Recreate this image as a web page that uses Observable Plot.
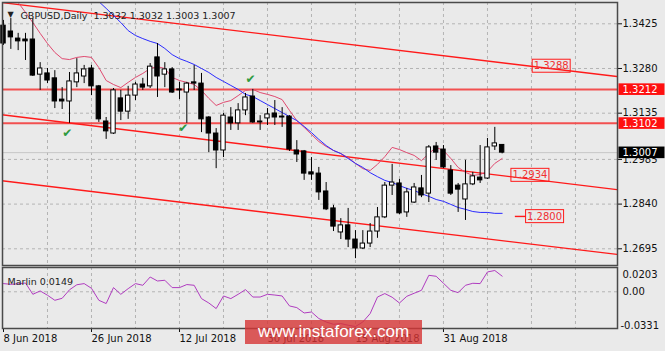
<!DOCTYPE html>
<html><head><meta charset="utf-8">
<script src="https://cdn.jsdelivr.net/npm/d3@7"></script>
<script src="https://cdn.jsdelivr.net/npm/@observablehq/plot@0.6"></script>
<style>
html,body{margin:0;padding:0;background:#eaeaea;}
#wrap{position:relative;width:665px;height:351px;background:#eaeaea;overflow:hidden;}
#wrap svg{position:absolute;left:0;top:0;overflow:visible;}
#wrap [aria-label^="x-axis"] text{text-anchor:start;}
#wm{position:absolute;left:245px;top:320px;width:177px;height:24px;background:rgba(214,52,52,0.80);color:#fff;font:17px "Liberation Sans",Arial,sans-serif;line-height:24px;text-align:center;}
</style></head><body><div id="wrap"></div>
<script>
// ---------- data ----------
const open = [1.3419,1.3400,1.3377,1.3374,1.3374,1.3260,1.3264,1.3248,1.3179,1.3173,
1.3235,1.3254,1.3280,1.3222,1.3108,1.3069,1.3183,1.3140,1.3192,1.3228,
1.3222,1.3316,1.3260,1.3277,1.3212,1.3202,1.3235,1.3231,1.3121,1.3069,
1.3014,1.3121,1.3102,1.3144,1.3189,1.3108,1.3118,1.3134,1.3124,1.3124,
1.3014,1.3011,1.2943,1.2939,1.2881,1.2826,1.2748,1.2771,1.2725,1.2696,
1.2712,1.2751,1.2797,1.2900,1.2907,1.2813,1.2845,1.2891,1.2874,1.3027,
1.3017,1.2949,1.2900,1.2855,1.2904,1.2926,1.2923,1.3027,1.3032];
const high = [1.3436,1.3442,1.3394,1.3394,1.3442,1.3299,1.3280,1.3273,1.3218,1.3267,
1.3312,1.3290,1.3290,1.3225,1.3121,1.3215,1.3209,1.3222,1.3235,1.3248,
1.3296,1.3361,1.3299,1.3283,1.3235,1.3235,1.3290,1.3264,1.3124,1.3085,
1.3134,1.3153,1.3166,1.3199,1.3212,1.3127,1.3150,1.3176,1.3153,1.3127,
1.3046,1.3014,1.2991,1.2959,1.2910,1.2836,1.2793,1.2826,1.2754,1.2754,
1.2777,1.2829,1.2910,1.2969,1.2920,1.2891,1.2907,1.2933,1.3030,1.3040,
1.3030,1.2965,1.2907,1.2982,1.2943,1.3030,1.3053,1.3089,1.3032];
const low = [1.3355,1.3342,1.3338,1.3306,1.3254,1.3209,1.3231,1.3150,1.3147,1.3102,
1.3218,1.3231,1.3192,1.3105,1.3050,1.3066,1.3111,1.3115,1.3176,1.3209,
1.3215,1.3186,1.3218,1.3199,1.3179,1.3102,1.3209,1.3072,1.3007,1.2955,
1.2991,1.3079,1.3079,1.3127,1.3102,1.3079,1.3095,1.3095,1.3089,1.3011,
1.2975,1.2917,1.2917,1.2852,1.2819,1.2751,1.2725,1.2699,1.2663,1.2693,
1.2699,1.2729,1.2793,1.2868,1.2806,1.2797,1.2842,1.2861,1.2845,1.2982,
1.2955,1.2868,1.2813,1.2787,1.2900,1.2907,1.2920,1.3014,1.3003];
const close = [1.3361,1.3381,1.3368,1.3368,1.3257,1.3280,1.3241,1.3173,1.3173,1.3238,
1.3264,1.3277,1.3222,1.3115,1.3076,1.3209,1.3140,1.3192,1.3228,1.3218,
1.3286,1.3254,1.3277,1.3202,1.3209,1.3231,1.3231,1.3115,1.3069,1.3014,
1.3127,1.3102,1.3144,1.3186,1.3105,1.3105,1.3131,1.3121,1.3121,1.3017,
1.3001,1.2939,1.2936,1.2878,1.2823,1.2767,1.2771,1.2725,1.2696,1.2712,
1.2751,1.2797,1.2900,1.2910,1.2810,1.2878,1.2894,1.2868,1.3024,1.3007,
1.2959,1.2874,1.2887,1.2904,1.2930,1.2917,1.3024,1.3037,1.3007];
const maFast = [null,1.3527,1.3494,1.3462,1.3429,1.3394,1.3361,1.3332,1.3312,1.3309,
1.3316,1.3319,1.3316,1.3283,1.3241,1.3228,1.3218,1.3235,1.3251,1.3264,
1.3280,1.3286,1.3280,1.3251,1.3241,1.3235,1.3228,1.3209,1.3183,1.3160,
1.3170,1.3176,1.3192,1.3209,1.3212,1.3202,1.3196,1.3189,1.3179,1.3144,
1.3111,1.3089,1.3066,1.3043,1.3027,1.3014,1.3004,1.2991,1.2972,1.2955,
1.2949,1.2969,1.2994,1.3024,1.3017,1.3007,1.2998,1.2981,1.3004,1.3024,
1.3014,1.2988,1.2959,1.2943,1.2933,1.2936,1.2946,1.2972,1.2988];
const maSlow = [null,null,null,null,null,null,null,null,null,null,null,null,null,
1.3497,1.3475,1.3452,1.3429,1.3403,1.3387,1.3377,
1.3368,1.3361,1.3345,1.3325,1.3312,1.3303,1.3293,1.3280,1.3267,1.3251,
1.3238,1.3225,1.3212,1.3196,1.3189,1.3176,1.3163,1.3150,1.3137,1.3124,
1.3111,1.3092,1.3072,1.3050,1.3030,1.3014,1.3004,1.2988,1.2972,1.2959,
1.2942,1.2929,1.2917,1.2910,1.2900,1.2891,1.2884,1.2874,1.2865,1.2855,
1.2849,1.2839,1.2829,1.2823,1.2816,1.2813,1.2813,1.2810,1.2810];
const marlin = [0.0078,0.0071,0.0076,0.0084,-0.0024,0.0008,-0.0033,-0.0081,-0.0062,0.0019,
0.0067,0.0078,0.0033,-0.0081,-0.0112,0.0040,-0.0024,0.0030,0.0078,0.0062,
0.0141,0.0103,0.0110,0.0040,0.0040,0.0069,0.0062,-0.0065,-0.0107,-0.0160,
-0.0040,-0.0065,-0.0024,0.0021,-0.0050,-0.0050,-0.0024,-0.0031,-0.0040,-0.0135,
-0.0151,-0.0202,-0.0193,-0.0255,-0.0288,-0.0310,-0.0303,-0.0319,-0.0331,-0.0288,
-0.0208,-0.0050,-0.0017,-0.0052,-0.0107,-0.0043,-0.0014,0.0014,0.0157,0.0148,
0.0081,0.0014,-0.0008,0.0062,0.0081,0.0078,0.0189,0.0203,0.0149];
const priceTicks = [1.3425,1.3280,1.3135,1.2985,1.2840,1.2695];
const marlinTicks = [0.0203,0,-0.0331];
const dateLabels = ["8 Jun 2018","26 Jun 2018","12 Jul 2018","30 Jul 2018","15 Aug 2018","31 Aug 2018"];
const dateIdx = [0,12,24,36,48,60];
const gridIdx = [6,12,18,24,30,36,42,48,54,60,66,72,78];
const levels = [1.3212,1.3102];
const channels = [
  {i0:-1, p0:1.3496, i1:85, p1:1.3250},
  {i0:-1, p0:1.3132, i1:85, p1:1.2883},
  {i0:-1, p0:1.2918, i1:85, p1:1.2673}];
const channelLabels = [
  {label:"1.3288", i:72.3, p:1.3288},
  {label:"1.2934", i:69.4, p:1.2934},
  {label:"1.2800", i:71.4, p:1.2800}];
const leadLines = [{p:1.2800, i1:69.8, i2:71.3}];
const checks = [{i:8.7, p:1.3071}, {i:24.5, p:1.3085}, {i:33.7, p:1.3244}];
const rightBoxes = [{v:1.3212, bg:"#ff1010"},{v:1.3102, bg:"#ff1010"},{v:1.3007, bg:"#000000"}];
const symbol = "GBPUSD,Daily";
const title = symbol + "  " + [open[68],high[68],low[68],close[68]].map(d=>d.toFixed(4)).join(" ");

// ---------- build ----------
const bars = open.map((o,i)=>({i, o, h:high[i], l:low[i], c:close[i]}));
const fast = maFast.map((v,i)=>({i,v})).filter(d=>d.v!=null);
const slow = maSlow.map((v,i)=>({i,v})).filter(d=>d.v!=null);
const mar = marlin.map((v,i)=>({i,v}));
const last = bars[bars.length-1];
const BAR0 = 3, BAR = 7.333;
const X = {domain:[0,68], range:[BAR0, BAR0+68*BAR]};
const font = "DejaVu Sans";
const gridStyle = {stroke:"#b4b4b4", strokeDasharray:"3,3", strokeWidth:1};
const RED = "#ff1a1a";

const p1 = Plot.plot({
  width:665, height:351,
  marginLeft:2, marginRight:48, marginTop:2, marginBottom:86,
  style:{background:"transparent", fontFamily:font, fontSize:"10px", color:"#111"},
  x:{...X, axis:null},
  y:{domain:[1.2695,1.3425], range:[248.3,23.3], axis:"right", ticks:priceTicks,
     tickFormat:d=>d.toFixed(4), tickSize:4, tickPadding:1, label:null},
  marks:[
    Plot.ruleY(priceTicks, gridStyle),
    Plot.ruleX(gridIdx, gridStyle),
    Plot.ruleY([last.c], {stroke:"#c6c6c6", strokeWidth:1}),
    Plot.ruleY(levels, {stroke:"#f25050", strokeWidth:2}),
    Plot.link(channels, {x1:"i0", y1:"p0", x2:"i1", y2:"p1", stroke:RED, strokeWidth:1.4, clip:true}),
    Plot.ruleY(leadLines, {y:"p", x1:"i1", x2:"i2", stroke:RED, strokeWidth:1.4}),
    Plot.line(fast, {x:"i", y:"v", stroke:"#e04a70", strokeWidth:1, clip:true}),
    Plot.line(slow, {x:"i", y:"v", stroke:"#2a2aff", strokeWidth:1, clip:true}),
    Plot.ruleX(bars, {x:"i", y1:"l", y2:"h", stroke:"#000", strokeWidth:1}),
    Plot.rect(bars.filter(d=>d.c>=d.o), {x1:d=>d.i-0.3, x2:d=>d.i+0.3, y1:"o", y2:"c", fill:"#fff", stroke:"#000", strokeWidth:1}),
    Plot.rect(bars.filter(d=>d.c<d.o), {x1:d=>d.i-0.3, x2:d=>d.i+0.3, y1:"o", y2:"c", fill:"#000", stroke:"#000", strokeWidth:1}),
    Plot.text(checks, {x:"i", y:"p", text:()=>"\u2714", fill:"#2f9a40", fontSize:12}),
    Plot.text(channelLabels, {x:"i", y:"p", text:"label", fill:"#f03030", textAnchor:"start", fontSize:10}),
    Plot.text(["\u25BC"], {frameAnchor:"top-left", dx:5, dy:9, fontSize:8, fill:"#222"}),
    Plot.text([title], {frameAnchor:"top-left", dx:18, dy:10, textAnchor:"start", fontSize:9.5, fill:"#222"}),
    Plot.text(rightBoxes, {y:"v", text:d=>d.v.toFixed(4), frameAnchor:"right", dx:5, textAnchor:"start", fill:"#fff", fontSize:10}),
    Plot.frame({stroke:"#4a4a4a", strokeWidth:1.5})
  ]
});

const p2 = Plot.plot({
  width:665, height:351,
  marginLeft:2, marginRight:48, marginTop:267, marginBottom:23,
  style:{background:"transparent", fontFamily:font, fontSize:"10px", color:"#111"},
  x:{...X, axis:"bottom", ticks:dateIdx, tickFormat:i=>dateLabels[dateIdx.indexOf(i)], tickSize:4, tickPadding:2, label:null},
  y:{domain:[-0.0331,0.0203], range:[326,270], axis:null},
  marks:[
    Plot.ruleX(gridIdx, gridStyle),
    Plot.ruleY([0], gridStyle),
    Plot.line(mar, {x:"i", y:"v", stroke:"#b03cc0", strokeWidth:1}),
    Plot.text(["Marlin " + marlin[marlin.length-1].toFixed(4)], {frameAnchor:"top-left", dx:5, dy:10.5, textAnchor:"start", fontSize:9.5, fill:"#222"}),
    Plot.text([marlinTicks[0]], {y:d=>d, text:d=>d.toFixed(4), frameAnchor:"right", dx:5, textAnchor:"start", lineAnchor:"top", fontSize:10}),
    Plot.text([marlinTicks[1]], {y:d=>d, text:d=>d.toFixed(2), frameAnchor:"right", dx:5, textAnchor:"start", fontSize:10}),
    Plot.text([marlinTicks[2]], {y:d=>d, text:d=>d.toFixed(4), frameAnchor:"right", dx:3, dy:2, textAnchor:"start", lineAnchor:"bottom", fontSize:10}),
    Plot.frame({stroke:"#4a4a4a", strokeWidth:1.5})
  ]
});

const wrap = document.getElementById("wrap");
wrap.appendChild(p1);
wrap.appendChild(p2);
const wm = document.createElement("div");
wm.id = "wm"; wm.textContent = "www.instaforex.com";
wrap.appendChild(wm);

// boxes behind label texts
const NS = "http://www.w3.org/2000/svg";
const boxSpecs = {};
rightBoxes.forEach(d=>{ boxSpecs[d.v.toFixed(4)] = {fill:d.bg, stroke:"none", pl:4, pr:7, pt:0.3, pb:0.3}; });
channelLabels.forEach(d=>{ boxSpecs[d.label] = {fill:"none", stroke:RED, pl:1.5, pr:1.5, pt:1, pb:1}; });
const moved = new Set();
p1.querySelectorAll('g[aria-label="text"] text').forEach(t=>{
  const s = boxSpecs[t.textContent];
  if (!s) return;
  const b = t.getBBox();
  const r = document.createElementNS(NS, "rect");
  r.setAttribute("x", b.x - s.pl);
  r.setAttribute("y", b.y - s.pt);
  r.setAttribute("width", b.width + s.pl + s.pr);
  r.setAttribute("height", b.height + s.pt + s.pb);
  r.setAttribute("fill", s.fill);
  r.setAttribute("stroke", s.stroke);
  r.setAttribute("stroke-width", 1);
  const tr = t.getAttribute("transform");
  if (tr) r.setAttribute("transform", tr);
  t.parentNode.insertBefore(r, t);
  moved.add(t.parentNode);
});
moved.forEach(g=>p1.appendChild(g));
</script></body></html>
